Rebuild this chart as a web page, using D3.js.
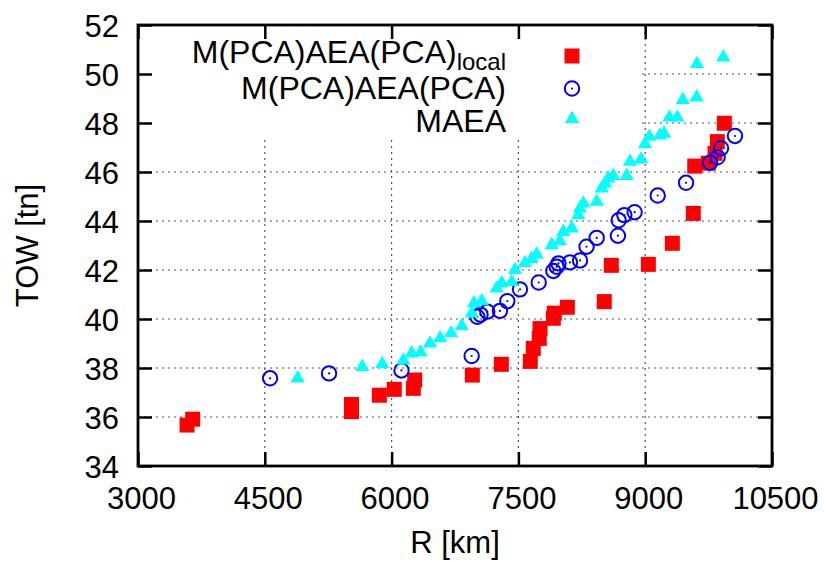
<!DOCTYPE html>
<html>
<head>
<meta charset="utf-8">
<script src="https://cdn.jsdelivr.net/npm/d3@7"></script>
<style>
html,body{margin:0;padding:0;background:#fff;}
svg{display:block;font-family:"Liberation Sans",Arial,sans-serif;}
</style>
</head>
<body>
<script>
// ---- data (R [km], TOW [tn]) ----
const localR   = [3580,3647,5526,5526,5855,6032,6257,6273,6955,7298,7641,7676,7747,7756,7913,7925,8079,8516,8599,9037,9321,9569,9586,9747,9826,9853,9936];
const localTOW = [35.67,35.91,36.22,36.51,36.89,37.13,37.17,37.51,37.71,38.15,38.27,38.80,39.21,39.61,40.03,40.24,40.48,40.71,42.19,42.23,43.09,44.31,46.24,46.36,46.76,47.24,47.99];

const pcaR   = [4562,5260,6117,6947,7014,7052,7132,7282,7369,7519,7740,7913,7953,7974,8110,8229,8306,8426,8677,8686,8753,8875,9148,9483,9767,9857,9897,10062];
const pcaTOW = [37.58,37.78,37.90,38.49,40.09,40.18,40.30,40.33,40.73,41.21,41.49,41.96,42.13,42.27,42.31,42.39,42.95,43.31,43.40,44.03,44.24,44.36,45.04,45.56,46.38,46.60,46.97,47.47];

const maeaR   = [4889,5653,5890,6139,6238,6344,6454,6573,6703,6829,6948,6975,7066,7243,7303,7421,7460,7578,7657,7717,7894,7992,8031,8131,8209,8229,8268,8426,8486,8525,8564,8623,8781,8820,8950,8998,9049,9175,9223,9285,9380,9444,9609,9613,9924];
const maeaTOW = [37.58,38.05,38.16,38.31,38.60,38.64,39.00,39.22,39.42,39.71,40.23,40.64,40.73,41.25,41.46,41.51,42.00,42.29,42.45,42.63,43.02,43.18,43.56,43.70,44.24,44.52,44.72,44.79,45.33,45.54,45.74,45.84,45.84,46.42,46.52,47.14,47.44,47.49,47.57,48.23,48.23,48.94,49.05,50.41,50.68];

const xTicks = [3000,4500,6000,7500,9000,10500];
const yTicks = [34,36,38,40,42,44,46,48,50,52];
const seriesNames = ["M(PCA)AEA(PCA)", "M(PCA)AEA(PCA)", "MAEA"];

// ---- layout ----
const W = 824, H = 561;
const m = {left:138, top:25, right:52, bottom:95};
const pw = W - m.left - m.right, ph = H - m.top - m.bottom;

const svg = d3.select("body").append("svg").attr("width", W).attr("height", H);
const x = d3.scaleLinear().domain([3000,10500]).range([m.left, m.left + pw]);
const y = d3.scaleLinear().domain([34,52]).range([m.top + ph, m.top]);

// grid
const grid = svg.append("g").attr("stroke", "#555").attr("stroke-width", 1.2).attr("stroke-dasharray", "2,4");
xTicks.slice(1, -1).forEach(v => grid.append("line").attr("x1", x(v)).attr("x2", x(v)).attr("y1", y(34)).attr("y2", y(52)));
yTicks.slice(1, -1).forEach(v => grid.append("line").attr("x1", x(3000)).attr("x2", x(10500)).attr("y1", y(v)).attr("y2", y(v)));

// opaque key box
svg.append("rect").attr("x", m.left + 1).attr("y", m.top + 1).attr("width", 499).attr("height", 111).attr("fill", "#fff");

// axes (ticks inward, mirrored)
const tl = 14;
const fs = 31;
const axB = svg.append("g").attr("transform", `translate(0,${m.top + ph})`)
  .call(d3.axisBottom(x).tickValues(xTicks).tickSize(-tl).tickFormat(d3.format("d")).tickPadding(0));
const axT = svg.append("g").attr("transform", `translate(0,${m.top})`)
  .call(d3.axisTop(x).tickValues(xTicks).tickSize(-tl).tickFormat(""));
const axL = svg.append("g").attr("transform", `translate(${m.left},0)`)
  .call(d3.axisLeft(y).tickValues(yTicks).tickSize(-tl).tickFormat(d3.format("d")));
const axR = svg.append("g").attr("transform", `translate(${m.left + pw},0)`)
  .call(d3.axisRight(y).tickValues(yTicks).tickSize(-tl).tickFormat(""));
[axB, axT, axL, axR].forEach(a => {
  a.select(".domain").remove();
  a.selectAll(".tick line").attr("stroke", "#000").attr("stroke-width", 2.5);
});
axB.selectAll(".tick text").attr("font-size", fs).attr("fill", "#000").attr("font-family", "Liberation Sans, Arial, sans-serif")
  .attr("dy", null).attr("y", 43).attr("x", 3);
axL.selectAll(".tick text").attr("font-size", fs).attr("fill", "#000").attr("font-family", "Liberation Sans, Arial, sans-serif")
  .attr("x", -19).attr("dy", "0.36em");

// border
svg.append("rect").attr("x", m.left).attr("y", m.top).attr("width", pw).attr("height", ph)
  .attr("fill", "none").attr("stroke", "#000").attr("stroke-width", 2.8);

// axis titles
svg.append("text").attr("x", m.left + pw / 2).attr("y", 553).attr("text-anchor", "middle")
  .attr("font-size", fs).text("R [km]");
svg.append("text").attr("transform", `translate(38,${m.top + ph / 2}) rotate(-90)`).attr("text-anchor", "middle")
  .attr("font-size", fs).text("TOW [tn]");

// marker drawers
const sq = d3.symbol().type(d3.symbolSquare).size(225);
const tri = d3.symbol().type(d3.symbolTriangle).size(88);
function drawSquare(g, cx, cy) { g.append("path").attr("d", sq()).attr("transform", `translate(${cx},${cy})`).attr("fill", "#ff0000"); }
function drawCircle(g, cx, cy) {
  g.append("circle").attr("cx", cx).attr("cy", cy).attr("r", 7.2).attr("fill", "none").attr("stroke", "#0000ff").attr("stroke-width", 2);
  g.append("circle").attr("cx", cx).attr("cy", cy).attr("r", 1.1).attr("fill", "#0000ff");
}
function drawTri(g, cx, cy) { g.append("path").attr("d", tri()).attr("transform", `translate(${cx},${cy})`).attr("fill", "#00ffff"); }

// legend
const lg = svg.append("g").attr("font-size", 32);
const t1 = lg.append("text").attr("x", 506).attr("y", 63).attr("text-anchor", "end");
t1.append("tspan").text(seriesNames[0]);
t1.append("tspan").attr("font-size", 24).attr("dy", 7).text("local");
lg.append("text").attr("x", 506).attr("y", 99).attr("text-anchor", "end").text(seriesNames[1]);
lg.append("text").attr("x", 506).attr("y", 132).attr("text-anchor", "end").text(seriesNames[2]);
drawSquare(lg, 572, 56);
drawCircle(lg, 572, 88.5);
drawTri(lg, 572, 119);

// data points
const pts = svg.append("g");
localR.forEach((r, i) => drawSquare(pts, x(r), y(localTOW[i])));
pcaR.forEach((r, i) => drawCircle(pts, x(r), y(pcaTOW[i])));
maeaR.forEach((r, i) => drawTri(pts, x(r), y(maeaTOW[i])));
</script>
</body>
</html>
